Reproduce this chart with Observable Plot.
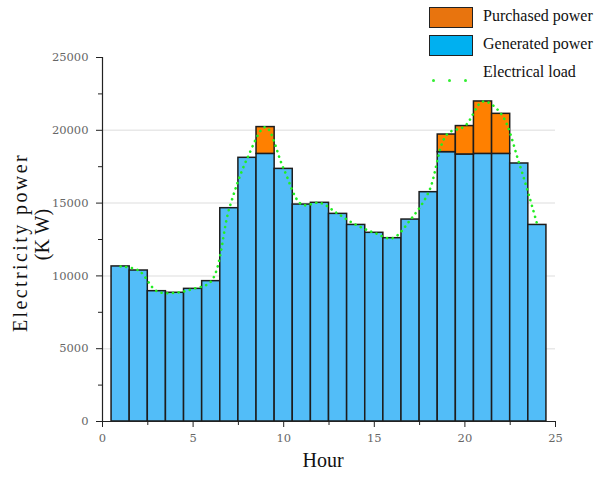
<!DOCTYPE html>
<html>
<head>
<meta charset="utf-8">
<script src="https://cdn.jsdelivr.net/npm/d3@7"></script>
<script src="https://cdn.jsdelivr.net/npm/@observablehq/plot@0.6"></script>
<style>
  body { margin: 0; background: #fff; }
  #wrap { position: relative; width: 596px; height: 479px; }
  .leg { position: absolute; font-family: "Liberation Serif", "Times New Roman", serif; font-size: 16px; color: #111; white-space: nowrap; }
  .sw { position: absolute; border: 1.3px solid #222; box-sizing: border-box; }
  .ylab1 text { letter-spacing: 2.4px; }
</style>
</head>
<body>
<div id="wrap"></div>
<script>
const hours = [1,2,3,4,5,6,7,8,9,10,11,12,13,14,15,16,17,18,19,20,21,22,23,24];
const generated = [10650,10370,8950,8840,9110,9640,14650,18110,18380,17350,14900,15020,14260,13500,12960,12590,13870,15750,18500,18340,18380,18380,17720,13500];
const purchased = [0,0,0,0,0,0,0,0,1840,0,0,0,0,0,0,0,0,0,1210,1950,3600,2750,0,0];
const load = [10650,10370,8950,8840,9110,9640,14650,18110,20220,17350,14900,15020,14260,13500,12960,12590,13870,15750,19710,20290,21980,21130,17720,13500];
const xMajor = [0,5,10,15,20,25];
const xMinor = [2.5,7.5,12.5,17.5,22.5];
const yMajor = [0,5000,10000,15000,20000,25000];
const yMinor = [2500,7500,12500,17500,22500];
const yGrid = [5000,10000,15000,20000];

const rows = hours.map((h, i) => ({h, gen: generated[i], pur: purchased[i], total: generated[i] + purchased[i], load: load[i]}));
const purRows = rows.filter(d => d.pur > 0);

const chart = Plot.plot({
  width: 596,
  height: 479,
  marginLeft: 102,
  marginRight: 41,
  marginTop: 57,
  marginBottom: 58,
  style: {fontFamily: "'DejaVu Serif', serif", fontSize: "11.5px", background: "#fff", overflow: "visible"},
  x: {domain: [0, 25]},
  y: {domain: [0, 25000]},
  marks: [
    Plot.ruleY(yGrid, {stroke: "#e8e8e8", strokeWidth: 1.5}),
    Plot.rectY(rows, {x1: d => d.h - 0.5, x2: d => d.h + 0.5, y1: 0, y2: "gen", fill: "#52bdf8", stroke: "#1d1d1d", strokeWidth: 1.5}),
    Plot.rectY(purRows, {x1: d => d.h - 0.5, x2: d => d.h + 0.5, y1: "gen", y2: "total", fill: "#ff8000", stroke: "#1d1d1d", strokeWidth: 1.5}),
    Plot.line(rows, {x: "h", y: "load", curve: "catmull-rom", stroke: "#22ee22", strokeWidth: 2.6, strokeDasharray: "0.1 5.6", strokeLinecap: "round"}),
    Plot.ruleX([0], {y1: 0, y2: 25000, stroke: "#222", strokeWidth: 1.2}),
    Plot.ruleY([0], {x1: 0, x2: 25, stroke: "#222", strokeWidth: 1.2}),
    Plot.axisX({ticks: xMajor, tickSize: 6, tickPadding: 6, stroke: "#222", fill: "#666", tickFormat: d => String(d), label: null}),
    Plot.axisX({ticks: xMinor, tickSize: 4, tickFormat: () => "", stroke: "#222", label: null}),
    Plot.axisY({ticks: yMajor, tickSize: 6, tickPadding: 8, stroke: "#222", fill: "#666", tickFormat: d => String(d), label: null}),
    Plot.axisY({ticks: yMinor, tickSize: 4, tickFormat: () => "", stroke: "#222", label: null}),
    Plot.text(["Hour"], {frameAnchor: "bottom", dx: -6, dy: 45, fontFamily: "'Liberation Serif', serif", fontSize: 20, fill: "#111"}),
    Plot.text(["Electricity power"], {className: "ylab1", frameAnchor: "left", textAnchor: "middle", lineAnchor: "middle", dx: -82, dy: 3, rotate: -90, fontFamily: "'Liberation Serif', serif", fontSize: 20, fill: "#111"}),
    Plot.text(["(K W)"], {frameAnchor: "left", textAnchor: "middle", lineAnchor: "middle", dx: -60, dy: -5, rotate: -90, fontFamily: "'Liberation Serif', serif", fontSize: 20, fill: "#111"})
  ]
});

const wrap = document.getElementById("wrap");
wrap.appendChild(chart);

function addLegend() {
  const items = [
    {type: "box", color: "#e8740e", label: "Purchased power", top: 7, textTop: 7},
    {type: "box", color: "#00b0f0", label: "Generated power", top: 35, textTop: 35},
    {type: "dots", color: "#33ee33", label: "Electrical load", top: 80, textTop: 63}
  ];
  for (const it of items) {
    if (it.type === "box") {
      const s = document.createElement("div");
      s.className = "sw";
      s.style.left = "429px"; s.style.top = it.top + "px"; s.style.height = "21px"; s.style.width = "44px";
      s.style.background = it.color;
      wrap.appendChild(s);
    } else {
      for (const x of [432, 448, 464]) {
        const d = document.createElement("div");
        d.style.cssText = `position:absolute;left:${x}px;top:${it.top - 1}px;width:3px;height:3px;border-radius:50%;background:${it.color}`;
        wrap.appendChild(d);
      }
    }
    const t = document.createElement("div");
    t.className = "leg";
    t.style.left = "483px"; t.style.top = it.textTop + "px";
    t.textContent = it.label;
    wrap.appendChild(t);
  }
}
addLegend();
</script>
</body>
</html>
